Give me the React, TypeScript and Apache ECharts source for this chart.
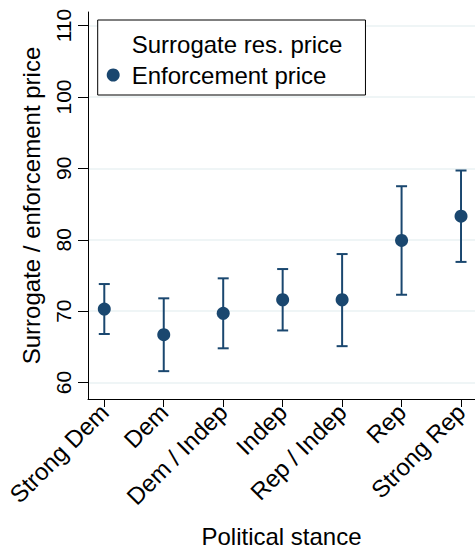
import React, { useEffect, useRef } from "react";
import * as echarts from "echarts";

const categories = ["Strong Dem", "Dem", "Dem / Indep", "Indep", "Rep / Indep", "Rep", "Strong Rep"];
const pointValues = [70.3, 66.7, 69.7, 71.6, 71.6, 79.9, 83.3];
const lowerValues = [66.8, 61.6, 64.8, 67.3, 65.1, 72.3, 76.9];
const upperValues = [73.8, 71.8, 74.6, 75.9, 78.0, 87.5, 89.7];
const yTickValues = [60, 70, 80, 90, 100, 110];
const xTickValues = [1, 2, 3, 4, 5, 6, 7];
const seriesNames = ["Surrogate res. price", "Enforcement price"];

const FONT = "'Liberation Sans', Arial, Helvetica, sans-serif";
const NAVY = "#1a476f";

export default function App() {
  const ref = useRef<HTMLDivElement>(null);
  useEffect(() => {
    if (!ref.current) return;
    const chart = echarts.init(ref.current, undefined, { renderer: "svg" });
    const option: any = {
      animation: false,
      backgroundColor: "#fff",
      textStyle: { fontFamily: FONT },
      grid: { left: 88, top: 12, right: 0, bottom: 151, containLabel: false, outerBoundsMode: "none" },
      legend: {
        orient: "vertical",
        left: 97.7,
        top: 20,
        data: [
          { name: seriesNames[0], icon: "rect", itemStyle: { opacity: 0 } },
          { name: seriesNames[1], icon: "circle" },
        ],
        itemWidth: 27,
        itemHeight: 13,
        itemGap: 7,
        padding: [12, 23, 8, 2],
        borderColor: "#000",
        borderWidth: 1,
        backgroundColor: "#fff",
        selectedMode: false,
        textStyle: { fontSize: 24, color: "#000", fontFamily: FONT },
      },
      xAxis: {
        type: "value",
        min: 0.726,
        max: 7.235,
        name: "Political stance",
        nameLocation: "middle",
        nameGap: 125,
        nameTextStyle: { fontSize: 24, color: "#000", fontFamily: FONT },
        axisLine: { show: true, onZero: false, lineStyle: { color: "#000", width: 1 } },
        axisTick: { show: true, customValues: xTickValues, length: 8, lineStyle: { color: "#000", width: 1 } },
        axisLabel: {
          customValues: xTickValues,
          rotate: 45,
          fontSize: 24,
          color: "#000",
          margin: 9,
          fontFamily: FONT,
          formatter: (v: number) => categories[Math.round(v) - 1] ?? "",
        },
        splitLine: { show: false },
      },
      yAxis: {
        type: "value",
        min: 57.7,
        max: 111.9,
        name: "Surrogate / enforcement price",
        nameLocation: "middle",
        nameGap: 45,
        nameRotate: 90,
        nameTextStyle: { fontSize: 24, color: "#000", fontFamily: FONT },
        axisLine: { show: true, onZero: false, lineStyle: { color: "#000", width: 1 } },
        axisTick: { show: true, customValues: yTickValues, length: 10, lineStyle: { color: "#000", width: 1 } },
        axisLabel: {
          customValues: yTickValues,
          rotate: 90,
          fontSize: 21,
          color: "#000",
          margin: 14,
          fontFamily: FONT,
        },
        splitLine: { show: true, lineStyle: { color: "#eaf2f3", width: 1.5 } },
      },
      series: [
        {
          type: "custom",
          name: seriesNames[0],
          data: categories.map((_, i) => [i + 1, lowerValues[i], upperValues[i]]),
          encode: { x: 0, y: [1, 2] },
          z: 2,
          renderItem: (params: any, api: any) => {
            const x = api.value(0);
            const lo = api.coord([x, api.value(1)]);
            const hi = api.coord([x, api.value(2)]);
            const hw = 5.5;
            const style = { stroke: NAVY, lineWidth: 2, fill: "none" };
            return {
              type: "group",
              children: [
                { type: "line", shape: { x1: lo[0], y1: lo[1], x2: hi[0], y2: hi[1] }, style },
                { type: "line", shape: { x1: lo[0] - hw, y1: lo[1], x2: lo[0] + hw, y2: lo[1] }, style },
                { type: "line", shape: { x1: hi[0] - hw, y1: hi[1], x2: hi[0] + hw, y2: hi[1] }, style },
              ],
            };
          },
        },
        {
          type: "scatter",
          name: seriesNames[1],
          data: categories.map((_, i) => [i + 1, pointValues[i]]),
          symbol: "circle",
          symbolSize: 13,
          itemStyle: { color: NAVY, opacity: 1 },
          z: 3,
        },
      ],
    };
    chart.setOption(option);
    return () => chart.dispose();
  }, []);
  return (
    <div
      ref={ref}
      style={{ position: "absolute", left: 0, top: 0, width: 475, height: 550 }}
    />
  );
}
